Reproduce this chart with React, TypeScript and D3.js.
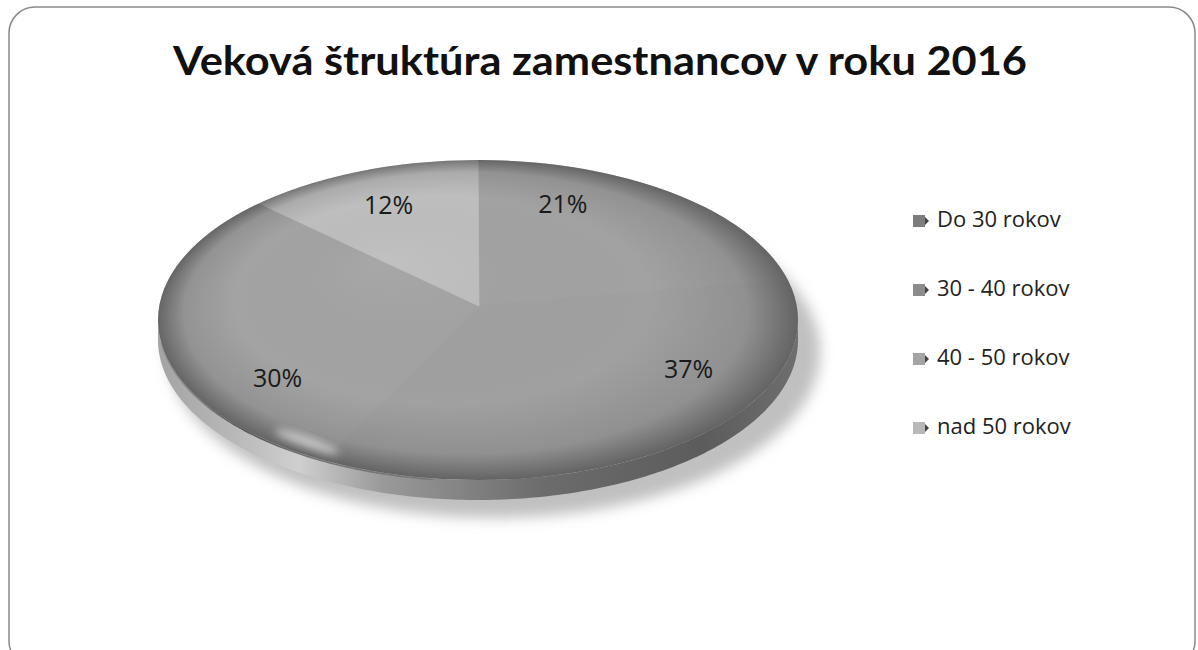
import React from "react";
import * as d3 from "d3";

const title = "Veková štruktúra zamestnancov v roku 2016";
const categories = ["Do 30 rokov", "30 - 40 rokov", "40 - 50 rokov", "nad 50 rokov"];
const values = [21, 37, 30, 12];
const sliceColors = ["#a2a2a2", "#a0a0a0", "#a3a3a3", "#bebebe"];
const legendColors = ["#7c7c7c", "#8c8c8c", "#a4a4a4", "#b8b8b8"];

const W = 1198, H = 650;
const cx = 478, cy = 320, rx = 320, ry = 160, depth = 20;
const apex = { x: 479, y: 306 };
const deg = Math.PI / 180;

function ellPt(a: number, k = 1) {
  return { x: cx + rx * k * Math.sin(a), y: cy - ry * k * Math.cos(a) };
}

export default function App() {
  const pie = d3.pie<number>().sort(null).value((d) => d);
  const arcs = pie(values);
  const total = d3.sum(values);

  const slicePath = (a0: number, a1: number) => {
    const p = d3.path();
    p.moveTo(apex.x, apex.y);
    const n = Math.max(2, Math.ceil(((a1 - a0) / (Math.PI * 2)) * 240));
    for (let i = 0; i <= n; i++) {
      const pt = ellPt(a0 + ((a1 - a0) * i) / n);
      p.lineTo(pt.x, pt.y);
    }
    p.closePath();
    return p.toString();
  };

  const arcLine = (a0: number, a1: number, k: number, dy = 0) => {
    const p = d3.path();
    const n = 120;
    for (let i = 0; i <= n; i++) {
      const pt = ellPt(a0 + ((a1 - a0) * i) / n, k);
      if (i === 0) p.moveTo(pt.x, pt.y + dy);
      else p.lineTo(pt.x, pt.y + dy);
    }
    return p.toString();
  };

  const side = (() => {
    const p = d3.path();
    const n = 200;
    for (let i = 0; i <= n; i++) {
      const pt = ellPt(Math.PI / 2 + (Math.PI * i) / n);
      if (i === 0) p.moveTo(pt.x, pt.y);
      else p.lineTo(pt.x, pt.y);
    }
    for (let i = n; i >= 0; i--) {
      const pt = ellPt(Math.PI / 2 + (Math.PI * i) / n);
      p.lineTo(pt.x, pt.y + depth);
    }
    p.closePath();
    return p.toString();
  })();

  const legendY = d3.scalePoint<string>().domain(categories).range([221, 428]);
  const labelOrigin = { x: cx, y: (cy + apex.y) / 2 + 4 };
  const hlA = 215 * deg;
  const hl = ellPt(hlA, 0.93);
  const tangent = (Math.atan2(ry * Math.sin(hlA), rx * Math.cos(hlA)) * 180) / Math.PI;

  return (
    <svg width={W} height={H} style={{ position: "absolute", left: 0, top: 0, background: "#fff" }}>
      <defs>
        <radialGradient id="topShade" cx="50%" cy="50%" r="50%" fx="34%" fy="32%">
          <stop offset="0%" stopColor="#ffffff" stopOpacity={0.05} />
          <stop offset="65%" stopColor="#000000" stopOpacity={0} />
          <stop offset="88%" stopColor="#000000" stopOpacity={0.1} />
          <stop offset="100%" stopColor="#000000" stopOpacity={0.38} />
        </radialGradient>
        <linearGradient id="sideShade" x1="0" x2="1" y1="0" y2="0">
          <stop offset="0%" stopColor="#a4a4a4" />
          <stop offset="12%" stopColor="#b8b8b8" />
          <stop offset="22%" stopColor="#cfcfcf" />
          <stop offset="35%" stopColor="#9a9a9a" />
          <stop offset="60%" stopColor="#6c6c6c" />
          <stop offset="85%" stopColor="#5c5c5c" />
          <stop offset="100%" stopColor="#6e6e6e" />
        </linearGradient>
        <linearGradient id="creaseGrad" x1="0" x2="1" y1="0" y2="0">
          <stop offset="0%" stopColor="#555" stopOpacity={0.2} />
          <stop offset="30%" stopColor="#444" stopOpacity={0.85} />
          <stop offset="100%" stopColor="#444" stopOpacity={0.3} />
        </linearGradient>
        <filter id="blur6" x="-20%" y="-20%" width="140%" height="140%">
          <feGaussianBlur stdDeviation={7} />
        </filter>
        <filter id="blur3" x="-50%" y="-50%" width="200%" height="200%">
          <feGaussianBlur stdDeviation={4} />
        </filter>
        <clipPath id="topClip">
          <ellipse cx={cx} cy={cy} rx={rx} ry={ry} />
        </clipPath>
      </defs>
      <rect x={9} y={7} width={1186} height={660} rx={26} ry={26} fill="#fff" stroke="#8a8a8a" strokeWidth={1.5} />
      <text
        x={173}
        y={75}
        textLength={854}
        lengthAdjust="spacingAndGlyphs"
        fontFamily="Lato, 'Open Sans', sans-serif"
        fontWeight="bold"
        fontSize={41}
        fill="#111"
      >
        {title}
      </text>
      <ellipse cx={cx + 16} cy={cy + depth + 12} rx={rx + 6} ry={ry + 6} fill="#c0c0c0" filter="url(#blur6)" />
      <path d={side} fill="url(#sideShade)" />
      <g clipPath="url(#topClip)">
        {arcs.map((a, i) => (
          <path key={i} d={slicePath(a.startAngle, a.endAngle)} fill={sliceColors[i]} stroke={sliceColors[i]} strokeWidth={0.8} />
        ))}
      </g>
      <ellipse cx={cx} cy={cy} rx={rx} ry={ry} fill="url(#topShade)" />
      <path d={arcLine(188 * deg, 262 * deg, 1, 1)} fill="none" stroke="url(#creaseGrad)" strokeWidth={1.6} />
      <ellipse
        cx={hl.x}
        cy={hl.y}
        rx={34}
        ry={5}
        fill="#fff"
        opacity={0.6}
        filter="url(#blur3)"
        transform={`rotate(${tangent}, ${hl.x}, ${hl.y})`}
      />
      {arcs.map((a, i) => {
        const mid = (a.startAngle + a.endAngle) / 2;
        const ang = Math.max(mid - 25 * deg, a.startAngle + 21 * deg);
        const k = 0.74;
        const x = labelOrigin.x + rx * k * Math.sin(ang);
        const y = labelOrigin.y - ry * k * Math.cos(ang);
        return (
          <text key={i} x={x} y={y} textAnchor="middle" dominantBaseline="middle" fontFamily="'Open Sans', sans-serif" fontSize={25} fill="#1a1a1a">
            {`${Math.round((values[i] / total) * 100)}%`}
          </text>
        );
      })}
      {categories.map((c, i) => (
        <g key={c} transform={`translate(913, ${legendY(c)})`}>
          <rect x={0} y={-6} width={12} height={12} fill={legendColors[i]} />
          <path d="M12,-4 L16,0 L12,4 Z" fill="#444" />
          <text x={24} y={0} dominantBaseline="middle" fontFamily="'Open Sans', sans-serif" fontSize={22} fill="#222">
            {c}
          </text>
        </g>
      ))}
    </svg>
  );
}
